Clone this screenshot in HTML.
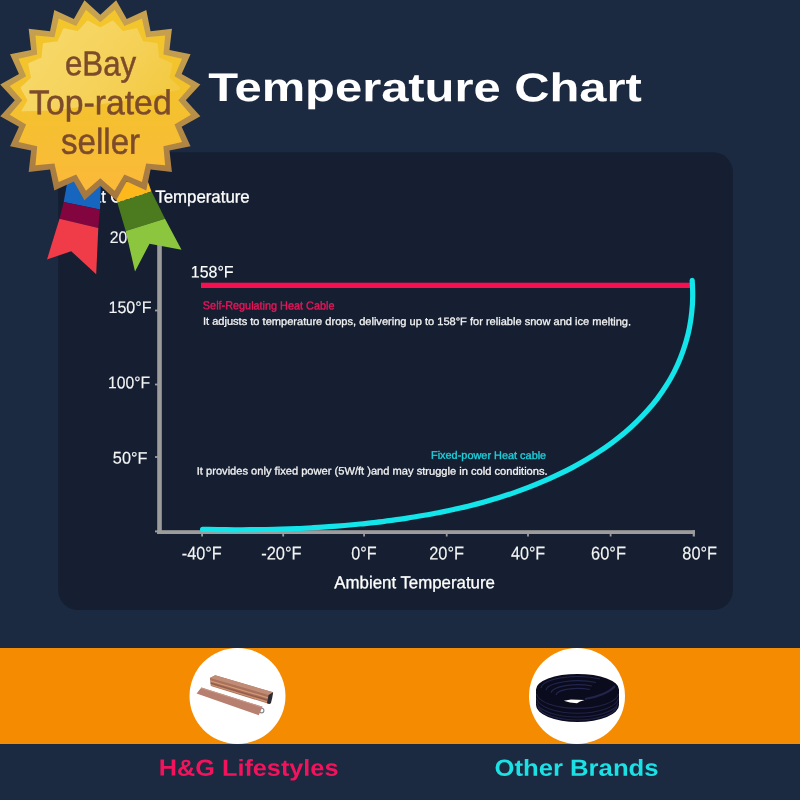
<!DOCTYPE html>
<html lang="en">
<head>
<meta charset="utf-8">
<title>Temperature Chart</title>
<style>
  html, body { margin: 0; padding: 0; background: #1b2941; }
  body { width: 800px; height: 800px; overflow: hidden; position: relative; }
  svg { display: block; position: absolute; left: 0; top: 0; }
  text { font-family: "Liberation Sans", sans-serif; text-rendering: geometricPrecision; }
  .wide { font-weight: 700; }
  .ax { fill: #f4f4f4; stroke: #f4f4f4; stroke-width: 0.15px; }
  .note { fill: #f2f2f2; stroke: #f2f2f2; stroke-width: 0.3px; }
</style>
</head>
<body>
<svg width="800" height="800" viewBox="0 0 800 800" role="img" aria-label="Temperature Chart">
  <defs>
    <linearGradient id="gBorder" x1="0" y1="0" x2="0" y2="1">
      <stop offset="0" stop-color="#c9a34f"/>
      <stop offset="0.4" stop-color="#c09a4c"/>
      <stop offset="0.75" stop-color="#ae8344"/>
      <stop offset="1" stop-color="#a5773f"/>
    </linearGradient>
    <linearGradient id="gGold" x1="0" y1="0" x2="0" y2="1">
      <stop offset="0" stop-color="#f2c62c"/>
      <stop offset="0.5" stop-color="#f3c22e"/>
      <stop offset="1" stop-color="#fbb93a"/>
    </linearGradient>
    <linearGradient id="gGloss" gradientUnits="userSpaceOnUse" x1="40" y1="20" x2="160" y2="110">
      <stop offset="0" stop-color="#f7d96b"/>
      <stop offset="0.6" stop-color="#f5d158"/>
      <stop offset="1" stop-color="#f3c941"/>
    </linearGradient>
    <clipPath id="cGloss">
      <path d="M0,0 H200 V85 C150,97 90,108 40,111 L0,111.5 Z"/>
    </clipPath>
  </defs>

  <!-- page background -->
  <rect x="0" y="0" width="800" height="800" fill="#1b2941"/>

  <!-- title -->
  <text class="wide" x="208.26" y="101.2" font-size="40.0" textLength="433.6" lengthAdjust="spacingAndGlyphs" transform="rotate(0.04 425.1 101.2)" fill="#ffffff">Temperature Chart</text>

  <!-- chart panel -->
  <rect x="58.2" y="152.3" width="674.8" height="457.7" rx="20" ry="20" fill="#151f31"/>

  <!-- chart heading -->
  <text x="71.3" y="202.6" font-size="17.39" textLength="81.4" lengthAdjust="spacingAndGlyphs" transform="rotate(0.04 112.0 202.6)" fill="#ffffff" stroke="#ffffff" stroke-width="0.3">Heat Cable</text>
  <text x="155.26" y="202.6" font-size="17.39" textLength="94.47" lengthAdjust="spacingAndGlyphs" transform="rotate(0.04 202.5 202.6)" fill="#ffffff" stroke="#ffffff" stroke-width="0.3">Temperature</text>

  <!-- axes -->
  <rect x="157.2" y="222" width="4.6" height="312" fill="#9c9c9c"/>
  <rect x="157.2" y="530.2" width="537.7" height="3.8" fill="#9c9c9c"/>
  <!-- y ticks -->
  <g fill="#9c9c9c">
    <rect x="155" y="236.2" width="3" height="1.8"/>
    <rect x="155" y="309.6" width="3" height="1.8"/>
    <rect x="155" y="383.6" width="3" height="1.8"/>
    <rect x="155" y="456.1" width="3" height="1.8"/>
    <rect x="155" y="530.4" width="3" height="2"/>
  </g>
  <!-- x ticks -->
  <g fill="#9c9c9c">
    <rect x="201.2" y="533" width="1.8" height="3.5"/>
    <rect x="282.3" y="533" width="1.8" height="3.5"/>
    <rect x="363.2" y="533" width="1.8" height="3.5"/>
    <rect x="445.8" y="533" width="1.8" height="3.5"/>
    <rect x="527.1" y="533" width="1.8" height="3.5"/>
    <rect x="609.7" y="533" width="1.8" height="3.5"/>
    <rect x="692.7" y="530.2" width="2.2" height="6.3"/>
  </g>

  <!-- y labels -->
  <g class="ax">
    <text x="109.71" y="243.0" font-size="16.86" textLength="42.21" lengthAdjust="spacingAndGlyphs" transform="rotate(0.04 130.8 243.0)">200°F</text>
    <text x="108.5" y="313.03" font-size="16.71" textLength="42.93" lengthAdjust="spacingAndGlyphs" transform="rotate(0.04 130.0 313.03)">150°F</text>
    <text x="108.02" y="388.33" font-size="16.9" textLength="42.09" lengthAdjust="spacingAndGlyphs" transform="rotate(0.04 129.1 388.33)">100°F</text>
    <text x="112.85" y="463.63" font-size="16.9" textLength="34.57" lengthAdjust="spacingAndGlyphs" transform="rotate(0.04 130.1 463.63)">50°F</text>
  </g>
  <!-- x labels -->
  <g class="ax">
    <text x="181.87" y="559.52" font-size="18.45" textLength="39.9" lengthAdjust="spacingAndGlyphs" transform="rotate(0.04 201.8 559.52)">-40°F</text>
    <text x="261.16" y="559.52" font-size="18.45" textLength="40.42" lengthAdjust="spacingAndGlyphs" transform="rotate(0.04 281.4 559.52)">-20°F</text>
    <text x="351.25" y="559.52" font-size="18.45" textLength="25.32" lengthAdjust="spacingAndGlyphs" transform="rotate(0.04 363.9 559.52)">0°F</text>
    <text x="429.28" y="559.52" font-size="18.45" textLength="34.74" lengthAdjust="spacingAndGlyphs" transform="rotate(0.04 446.6 559.52)">20°F</text>
    <text x="511.0" y="559.52" font-size="18.45" textLength="34.22" lengthAdjust="spacingAndGlyphs" transform="rotate(0.04 528.1 559.52)">40°F</text>
    <text x="591.08" y="559.52" font-size="18.45" textLength="34.85" lengthAdjust="spacingAndGlyphs" transform="rotate(0.04 608.5 559.52)">60°F</text>
    <text x="682.37" y="559.52" font-size="18.45" textLength="34.66" lengthAdjust="spacingAndGlyphs" transform="rotate(0.04 699.7 559.52)">80°F</text>
  </g>
  <text x="334.37" y="588.2" font-size="17.32" textLength="160.54" lengthAdjust="spacingAndGlyphs" transform="rotate(0.04 414.6 588.2)" fill="#ffffff" stroke="#ffffff" stroke-width="0.3">Ambient Temperature</text>

  <!-- self regulating line -->
  <rect x="201" y="282.7" width="490" height="5.3" fill="#f7104f"/>
  <text x="190.8" y="277.43" font-size="16.57" textLength="42.83" lengthAdjust="spacingAndGlyphs" transform="rotate(0.04 212.2 277.43)" fill="#ffffff" stroke="#ffffff" stroke-width="0.15">158°F</text>
  <text x="202.87" y="309.4" font-size="11.59" textLength="131.59" lengthAdjust="spacingAndGlyphs" transform="rotate(0.04 268.7 309.4)" fill="#e8165a" stroke="#e8165a" stroke-width="0.35">Self-Regulating Heat Cable</text>
  <text class="note" x="202.96" y="325.0" font-size="10.72" textLength="428.09" lengthAdjust="spacingAndGlyphs" transform="rotate(0.04 417.0 325.0)">It adjusts to temperature drops, delivering up to 158°F for reliable snow and ice melting.</text>

  <!-- fixed power curve -->
  <path d="M202.6,529.4 C205.2,529.4 213.1,529.6 218.3,529.6 C223.6,529.7 228.8,529.7 234.1,529.8 C239.3,529.8 244.6,529.7 249.8,529.7 C255.1,529.7 260.4,529.6 265.6,529.5 C270.9,529.4 276.1,529.3 281.4,529.1 C286.7,528.9 291.9,528.7 297.2,528.5 C302.5,528.3 307.7,528.0 313.0,527.7 C318.2,527.4 323.5,527.1 328.7,526.7 C334.0,526.3 339.2,525.9 344.5,525.5 C349.7,525.0 355.0,524.5 360.2,524.0 C365.5,523.5 370.7,522.9 375.9,522.3 C381.1,521.7 386.4,521.0 391.6,520.3 C396.8,519.6 402.0,518.9 407.2,518.1 C412.4,517.3 417.6,516.4 422.7,515.5 C427.9,514.6 433.1,513.7 438.2,512.7 C443.4,511.7 448.5,510.6 453.6,509.5 C458.8,508.3 463.9,507.2 469.0,505.9 C474.1,504.6 479.1,503.3 484.2,501.9 C489.2,500.5 494.3,499.0 499.3,497.5 C504.3,495.9 509.2,494.3 514.2,492.6 C519.2,490.9 524.1,489.1 529.0,487.2 C533.9,485.3 538.7,483.3 543.6,481.2 C548.4,479.2 553.2,477.0 558.0,474.7 C562.8,472.4 567.5,470.1 572.2,467.6 C576.9,465.1 581.5,462.5 586.1,459.8 C590.6,457.1 595.1,454.3 599.5,451.4 C604.0,448.5 608.3,445.4 612.5,442.3 C616.7,439.1 620.9,435.9 624.9,432.5 C628.9,429.1 632.8,425.6 636.5,421.9 C640.3,418.3 643.9,414.5 647.4,410.6 C650.8,406.8 654.2,402.7 657.3,398.6 C660.4,394.4 663.4,390.2 666.2,385.7 C669.0,381.3 671.6,376.8 674.0,372.1 C676.4,367.4 678.6,362.6 680.5,357.7 C682.5,352.8 684.2,347.8 685.7,342.8 C687.2,337.7 688.5,332.6 689.5,327.4 C690.5,322.3 691.3,317.0 691.8,311.8 C692.4,306.6 692.7,301.3 692.7,296.1 C692.8,290.8 692.3,282.9 692.2,280.3" fill="none" stroke="#14e5ea" stroke-width="5.2" stroke-linecap="round" stroke-linejoin="round"/>
  <text x="431.03" y="458.9" font-size="10.87" textLength="115.17" lengthAdjust="spacingAndGlyphs" transform="rotate(0.04 488.6 458.9)" fill="#1fd0dc" stroke="#1fd0dc" stroke-width="0.35">Fixed-power Heat cable</text>
  <text class="note" x="196.77" y="474.6" font-size="10.72" textLength="350.87" lengthAdjust="spacingAndGlyphs" transform="rotate(0.04 372.2 474.6)">It provides only fixed power (5W/ft )and may struggle in cold conditions.</text>

  <!-- orange band -->
  <rect x="0" y="648" width="800" height="96" fill="#f58b00"/>
  <circle cx="237.5" cy="696" r="48" fill="#ffffff"/>
  <circle cx="577" cy="696" r="48" fill="#ffffff"/>

  <!-- copper bars -->
  <g>
    <!-- upper profile bar -->
    <polygon points="209.9,678 215.2,675.3 273.1,692.3 269.4,704 210.9,686" fill="#a9705c"/>
    <polygon points="209.9,678 215.2,675.3 273.1,692.3 268.6,695" fill="#c18c76"/>
    <polygon points="210.1,680.2 268.2,697.2 267.9,698.4 210.3,681.4" fill="#d39a72"/>
    <polygon points="210.4,682.6 267.6,699.6 267.3,700.7 210.6,683.7" fill="#8f5c4c"/>
    <polygon points="210.6,684.2 267.2,701.3 266.9,702.4 210.8,685.3" fill="#cf9670"/>
    <polygon points="268.6,695 273.1,692.3 272.2,698 270.9,703.2 269.4,704 267,703.3" fill="#2c2a33"/>
    <!-- lower flat bar -->
    <circle cx="261.6" cy="710.6" r="2.3" fill="none" stroke="#86868c" stroke-width="1.1"/>
    <polygon points="201.4,687.5 262.5,706.7 258.8,715.2 196.6,693.4" fill="#b67f6f"/>
    <polygon points="201.4,687.5 262.5,706.7 262.1,707.7 201,688.4" fill="#c9998a"/>
  </g>

  <!-- cable coil -->
  <g>
    <path d="M536,689.5 A41.5,15.6 0 0 1 619,689.5 L619,705 A41.5,17 0 0 1 536,705 Z" fill="#0b0b1e"/>
    <g fill="none" stroke="#23254a" stroke-width="1.1" opacity="0.9">
      <path d="M536.6,694 A41,15.5 0 0 0 618.4,694"/>
      <path d="M536.6,698.5 A41,15.8 0 0 0 618.4,698.5"/>
      <path d="M536.8,703 A41,16 0 0 0 618.2,703"/>
      <path d="M538,707 A40,15.5 0 0 0 617,707"/>
    </g>
    <g fill="none" stroke="#2a2e5c" stroke-width="1.2" opacity="0.75">
      <path d="M541,688 A37,12 0 0 1 600,679"/>
      <path d="M546,690 A32,10 0 0 1 596,682.5"/>
      <path d="M551,692.5 A27,8.5 0 0 1 592,686"/>
      <path d="M556,695 A22,7 0 0 1 590,689.5"/>
    </g>
    <path d="M585,699 C598,697 610,692 615,686" fill="none" stroke="#25274e" stroke-width="2" opacity="0.9"/>
    <polygon points="563.8,700.8 571,699.6 584.6,700 580,701.6 577,703.2 570,702.6" fill="#ffffff"/>
  </g>

  <!-- brand labels -->
  <text class="wide" x="158.86" y="775.7" font-size="23.19" textLength="179.61" lengthAdjust="spacingAndGlyphs" transform="rotate(0.04 248.7 775.7)" fill="#f2135c">H&amp;G Lifestyles</text>
  <text class="wide" x="494.47" y="775.7" font-size="23.19" textLength="164.06" lengthAdjust="spacingAndGlyphs" transform="rotate(0.04 576.5 775.7)" fill="#1be0e4">Other Brands</text>

  <!-- ribbons -->
  <g>
    <!-- left ribbon -->
    <polygon points="68,178 101,178 100,209.5 63.7,202" fill="#1666c0"/>
    <polygon points="63.7,202 100,209.5 98.3,228 59.5,218.7" fill="#83053f"/>
    <polygon points="59.5,218.7 98.3,228 96.2,274.3 71.2,251.2 47,259.5" fill="#ef3c48"/>
    <!-- right ribbon -->
    <polygon points="110,182 148,182 151.5,191.5 117.3,202.5" fill="#fdb91b"/>
    <polygon points="117.3,202.5 151.5,191.5 165,218.8 125.7,231" fill="#4b7a1f"/>
    <polygon points="125.7,231 165,218.8 181.5,249.8 149.5,243.7 135,271.5" fill="#8cc63e"/>
  </g>

  <!-- badge -->
  <g>
    <polygon points="116.15,0.25 126.72,18.98 146.29,10.04 150.56,31.13 171.93,28.67 169.47,50.04 190.56,54.31 181.62,73.88 200.35,84.45 185.80,100.30 200.35,116.15 181.62,126.72 190.56,146.29 169.47,150.56 171.93,171.93 150.56,169.47 146.29,190.56 126.72,181.62 116.15,200.35 100.30,185.80 84.45,200.35 73.88,181.62 54.31,190.56 50.04,169.47 28.67,171.93 31.13,150.56 10.04,146.29 18.98,126.72 0.25,116.15 14.80,100.30 0.25,84.45 18.98,73.88 10.04,54.31 31.13,50.04 28.67,28.67 50.04,31.13 54.31,10.04 73.88,18.98 84.45,0.25 100.30,14.80" fill="url(#gBorder)"/>
    <polygon points="114.65,9.73 124.40,26.12 141.93,18.59 146.15,37.20 165.14,35.46 163.40,54.45 182.01,58.67 174.48,76.20 190.87,85.95 178.30,100.30 190.87,114.65 174.48,124.40 182.01,141.93 163.40,146.15 165.14,165.14 146.15,163.40 141.93,182.01 124.40,174.48 114.65,190.87 100.30,178.30 85.95,190.87 76.20,174.48 58.67,182.01 54.45,163.40 35.46,165.14 37.20,146.15 18.59,141.93 26.12,124.40 9.73,114.65 22.30,100.30 9.73,85.95 26.12,76.20 18.59,58.67 37.20,54.45 35.46,35.46 54.45,37.20 58.67,18.59 76.20,26.12 85.95,9.73 100.30,22.30" fill="url(#gGold)"/>
    <g clip-path="url(#cGloss)">
      <polygon points="112.74,21.78 122.36,32.39 136.39,29.46 142.27,42.54 156.51,44.09 158.06,58.33 171.14,64.21 168.21,78.24 178.82,87.86 171.70,100.30 178.82,112.74 168.21,122.36 171.14,136.39 158.06,142.27 156.51,156.51 142.27,158.06 136.39,171.14 122.36,168.21 112.74,178.82 100.30,171.70 87.86,178.82 78.24,168.21 64.21,171.14 58.33,158.06 44.09,156.51 42.54,142.27 29.46,136.39 32.39,122.36 21.78,112.74 28.90,100.30 21.78,87.86 32.39,78.24 29.46,64.21 42.54,58.33 44.09,44.09 58.33,42.54 64.21,29.46 78.24,32.39 87.86,21.78 100.30,28.90" fill="url(#gGloss)" stroke="url(#gGloss)" stroke-width="2.4" stroke-linejoin="round"/>
    </g>
    <g fill="#7c4b2b" stroke="#7c4b2b" stroke-width="0.5">
      <text x="65.0" y="75.4" font-size="35.0" textLength="71.13" lengthAdjust="spacingAndGlyphs" transform="rotate(0.04 100.6 75.4)">eBay</text>
      <text x="29.07" y="114.3" font-size="34.49" textLength="142.61" lengthAdjust="spacingAndGlyphs" transform="rotate(0.04 100.4 114.3)">Top-rated</text>
      <text x="61.01" y="153.75" font-size="36.0" textLength="79.08" lengthAdjust="spacingAndGlyphs" transform="rotate(0.04 100.6 153.75)">seller</text>
    </g>
  </g>
</svg>
</body>
</html>
